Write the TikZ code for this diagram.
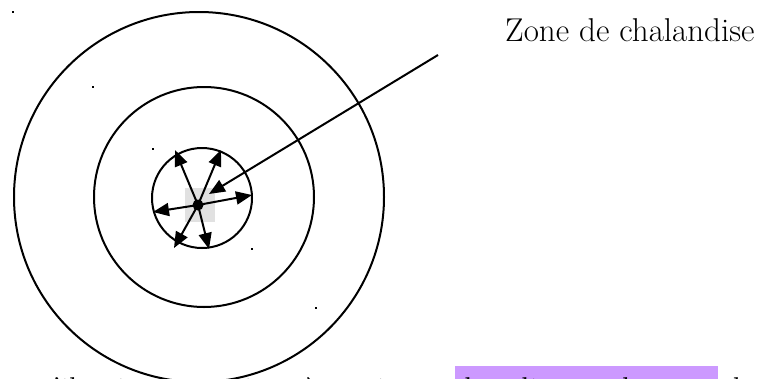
\documentclass[tikz,border=0pt]{standalone}
\usetikzlibrary{arrows.meta}
\definecolor{hl}{RGB}{204,153,255}
\definecolor{ghost}{RGB}{225,225,225}
\begin{document}
\begin{tikzpicture}[x=1pt,y=-1pt,
  ring/.style={draw=black,line width=2pt},
  ray/.style={line width=2pt,-{Triangle[length=16pt,width=13pt]}},
  speck/.style={fill=black,inner sep=0pt,minimum size=2.5pt},
  lbl/.style={font=\fontsize{33}{40}\selectfont,inner sep=0pt}]
\useasboundingbox (0,0) rectangle (760,378);
\clip (0,0) rectangle (760,378);
% bottom, cut-off line of text
\fill[hl] (455,366) rectangle (718,390);
\node[lbl,anchor=base west] (bottomtext) at (-2,400) {t qu'il existe une aire où se situent les clients : la zone de chalandise.};
% rings
\draw[ring,fill=white] (199,197) circle[radius=185];
\draw[ring] (204,197) circle[radius=110];
\draw[ring] (202,198) circle[radius=50];
% grey placeholder
\fill[ghost] (185,188) rectangle (215,222);
% specks
\node[speck] (s1) at (13,12) {};
\node[speck] (s2) at (93,87) {};
\node[speck] (s3) at (153,149) {};
\node[speck] (s4) at (252,249) {};
\node[speck] (s5) at (316,308) {};
% centre and rays
\node[circle,fill=black,inner sep=0pt,minimum size=11pt] (c) at (198,205) {};
\coordinate (t1) at (175,150);
\coordinate (t2) at (221,150);
\coordinate (t3) at (252,195);
\coordinate (t4) at (153,212);
\coordinate (t5) at (174,248);
\coordinate (t6) at (209,249);
\foreach \t in {t1,t2,t3,t4,t5,t6} \draw[ray] (c.center) -- (\t);
% label and pointer
\node[lbl,anchor=base west] (zone) at (505,41) {Zone de chalandise};
\coordinate (ps) at (438,55);
\coordinate (pe) at (209,194);
\draw[ray] (ps) -- (pe);
\end{tikzpicture}
\end{document}
